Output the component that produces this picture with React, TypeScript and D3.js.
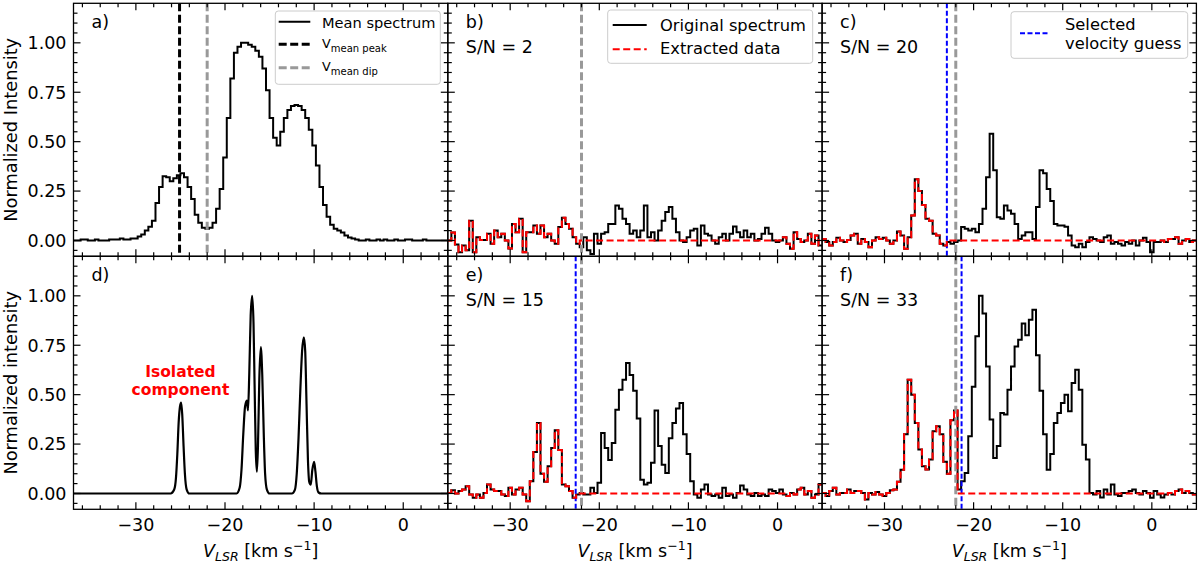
import React, { useEffect, useRef } from 'react';
import * as d3 from 'd3';

// Spectral channel grid (km/s): left edge of the first channel and channel width
const channelStart = -37;
const channelWidth = 0.4;

// a) mean spectrum
const meanSpectrum = [
  0.0, 0.0, 0.005, 0.005, 0.0, 0.0, 0.005, 0.0, 0.0, 0.0,
  0.005, 0.005, 0.005, 0.01, 0.005, 0.005, 0.01, 0.01, 0.02, 0.03,
  0.05, 0.07, 0.1, 0.19, 0.27, 0.325, 0.32, 0.3, 0.315, 0.33,
  0.34, 0.32, 0.27, 0.21, 0.13, 0.09, 0.065, 0.06, 0.065, 0.09,
  0.16, 0.26, 0.42, 0.62, 0.82, 0.95, 0.98, 1.0, 1.0, 0.99,
  0.98, 0.96, 0.93, 0.87, 0.76, 0.62, 0.52, 0.48, 0.55, 0.62,
  0.66, 0.68, 0.685, 0.68, 0.66, 0.62, 0.56, 0.48, 0.38, 0.27,
  0.18, 0.12, 0.08, 0.06, 0.05, 0.04, 0.025, 0.015, 0.01, 0.005,
  0.0, 0.0, 0.005, 0.0, 0.0, 0.005, 0.0, 0.005, 0.0, 0.0,
  0.005, 0.0, 0.0, 0.005, 0.005, 0.0, 0.0, 0.0, 0.005, 0.0,
  0.0, 0.0, 0.0, 0.0, 0.0,
];

// b) S/N = 2
const spectrumSN2 = [
  0.0, 0.04, -0.02, -0.06, -0.025, -0.05, 0.1, -0.06, 0.017, 0.003,
  0.003, 0.034, -0.017, 0.05, 0.017, 0.034, 0.0, -0.04, 0.084, 0.042,
  0.11, -0.06, 0.042, 0.042, 0.076, 0.034, 0.076, 0.017, 0.034, 0.0,
  -0.017, 0.068, 0.115, 0.084, 0.059, 0.017, -0.017, -0.034, 0.017, -0.05,
  -0.068, 0.034, -0.017, 0.034, 0.042, 0.084, 0.084, 0.177, 0.16, 0.11,
  0.084, 0.034, 0.05, 0.017, 0.05, 0.177, 0.017, 0.042, 0.0, 0.05,
  0.1, 0.144, 0.169, 0.11, 0.042, 0.0, -0.008, 0.017, 0.05, 0.059,
  -0.025, 0.076, 0.034, 0.025, 0.0, -0.017, 0.017, 0.034, 0.0, 0.034,
  0.071, 0.042, 0.017, 0.05, 0.017, 0.034, 0.0, 0.008, 0.034, 0.064,
  0.034, 0.0, -0.008, 0.0, 0.017, -0.017, -0.042, 0.042, 0.008, -0.008,
  0.0, 0.034, -0.017, 0.025, -0.025,
];

// c) S/N = 20
const spectrumSN20 = [
  0.008, -0.008, -0.025, -0.008, 0.014, 0.0, -0.008, 0.003, 0.025, 0.034,
  -0.017, 0.008, -0.008, -0.034, 0.0, 0.017, 0.008, 0.014, 0.0, -0.017,
  0.0, 0.046, 0.025, -0.042, 0.017, 0.127, 0.31, 0.25, 0.18, 0.11,
  0.1, 0.034, 0.025, -0.017, -0.025, -0.008, -0.017, -0.008, 0.0, 0.068,
  0.06, 0.05, 0.06, 0.042, 0.084, 0.16, 0.32, 0.54, 0.355, 0.118,
  0.11, 0.177, 0.152, 0.135, 0.084, 0.008, 0.025, 0.042, 0.042, 0.008,
  0.169, 0.355, 0.34, 0.26, 0.2, 0.084, 0.076, 0.076, 0.07, 0.025,
  -0.025, -0.034, -0.017, -0.034, -0.008, 0.017, 0.008, 0.0, -0.008, 0.017,
  0.025, -0.017, -0.008, -0.017, -0.025, -0.008, -0.017, 0.0, -0.025, 0.0,
  0.014, -0.008, -0.06, -0.008, -0.008, 0.0, -0.008, 0.008, 0.008, 0.017,
  -0.017, 0.0, 0.008, -0.008, 0.0,
];

// e) S/N = 15
const spectrumSN15 = [
  0.003, 0.017, 0.0, 0.012, 0.02, 0.037, -0.005, -0.022, -0.005, -0.022,
  0.003, 0.045, 0.02, 0.012, 0.012, -0.005, -0.013, 0.029, -0.005, 0.02,
  0.029, -0.005, -0.039, 0.062, 0.21, 0.357, 0.1, 0.06, 0.138, 0.23,
  0.32, 0.22, 0.045, 0.037, 0.012, -0.022, -0.005, 0.003, -0.005, -0.005,
  0.029, 0.003, 0.054, 0.306, 0.23, 0.17, 0.256, 0.424, 0.525, 0.576,
  0.66, 0.6, 0.52, 0.38, 0.07, 0.045, 0.054, 0.155, 0.42, 0.24,
  0.146, 0.104, 0.28, 0.357, 0.43, 0.458, 0.3, 0.2, 0.062, -0.005,
  -0.022, 0.02, 0.045, -0.005, -0.013, -0.005, -0.022, 0.029, -0.013, -0.005,
  -0.022, 0.003, 0.04, 0.02, -0.005, -0.013, 0.003, -0.013, -0.005, -0.013,
  0.02, 0.012, 0.003, 0.02, -0.005, -0.013, 0.003, -0.005, 0.02, 0.029,
  -0.005, 0.012, -0.022, -0.005, 0.045,
];

// f) S/N = 33
const spectrumSN33 = [
  0.003, -0.013, 0.012, 0.029, -0.005, 0.003, 0.003, 0.02, 0.003, 0.012,
  0.012, 0.003, -0.03, 0.003, -0.005, 0.007, -0.005, -0.013, 0.003, 0.017,
  0.02, 0.06, 0.12, 0.3, 0.576, 0.5, 0.357, 0.222, 0.138, 0.121,
  0.172, 0.315, 0.34, 0.3, 0.16, 0.1, 0.37, 0.42, 0.02, 0.062,
  0.104, 0.29, 0.54, 0.795, 1.0, 0.91, 0.643, 0.374, 0.18, 0.24,
  0.407, 0.4, 0.525, 0.643, 0.744, 0.778, 0.86, 0.8, 0.879, 0.93,
  0.7, 0.52, 0.3, 0.12, 0.2, 0.357, 0.407, 0.458, 0.5, 0.416,
  0.559, 0.626, 0.525, 0.247, 0.172, 0.003, -0.005, 0.012, -0.02, 0.02,
  -0.005, 0.045, -0.005, -0.013, 0.003, 0.003, 0.012, 0.02, 0.003, -0.005,
  0.012, 0.003, -0.022, 0.012, -0.005, -0.02, -0.005, 0.003, -0.005, 0.012,
  0.02, 0.003, 0.012, 0.003, -0.005,
];

// d) model profile (smooth), read at points along the curve
const modelVelocity = [
  -37, -26.1, -25.7, -25.5, -25.35, -25.2, -25.05, -24.92, -24.8, -24.65,
  -24.5, -24.3, -24.0, -18.7, -18.35, -18.15, -17.95, -17.75, -17.55, -17.42,
  -17.28, -17.12, -16.95, -16.8, -16.68, -16.55, -16.42, -16.3, -16.15, -15.98,
  -15.82, -15.65, -15.5, -15.3, -15.0, -12.5, -12.15, -11.95, -11.75, -11.55,
  -11.35, -11.15, -11.0, -10.85, -10.7, -10.55, -10.38, -10.2, -10.0, -9.85,
  -9.7, -9.5, -9.2, 5,
];
const modelIntensity = [
  0, 0, 0.02, 0.08, 0.2, 0.36, 0.44, 0.46, 0.4, 0.24,
  0.1, 0.02, 0, 0, 0.03, 0.12, 0.3, 0.44, 0.47, 0.42,
  0.6, 0.9, 1.0, 0.86, 0.55, 0.22, 0.11, 0.24, 0.58, 0.74,
  0.6, 0.3, 0.1, 0.02, 0, 0, 0.02, 0.1, 0.28, 0.52,
  0.72, 0.79, 0.72, 0.45, 0.18, 0.06, 0.045, 0.12, 0.16, 0.11,
  0.04, 0.005, 0, 0,
];

const panelLetters = ['a)', 'b)', 'c)', 'd)', 'e)', 'f)'];
const snLabels = ['', 'S/N = 2', 'S/N = 20', '', 'S/N = 15', 'S/N = 33'];
const guessVelocities = [null, null, -23.0, null, -22.65, -21.35];
// velocity range blanked out of the extracted data
const extractWindows = [null, [-22.1, 0.5], [-22.5, 1.5], null, [-22.6, 1.0], [-21.7, 1.5]];
const vMeanPeak = -25.1;
const vMeanDip = -22.0;

const xDomain = [-37, 5];
const yDomain = [-0.08, 1.2];
const xTicks = [-30, -20, -10, 0];
const yTicks = [0, 0.25, 0.5, 0.75, 1.0];

const FONT = 'DejaVu Sans, Verdana, sans-serif';
const GRAY = '#999999';

export default function App() {
  const svgRef = useRef<SVGSVGElement>(null);

  useEffect(() => {
    if (!svgRef.current) return;
    const svg = d3.select(svgRef.current);
    svg.selectAll('*').remove();

    const left = 73.5;
    const top = 3.3;
    const pw = 374.3;
    const ph = 253;

    const spectra = [meanSpectrum, spectrumSN2, spectrumSN20, null, spectrumSN15, spectrumSN33];
    const defs = svg.append('defs');

    const xMinor = d3.range(-36, 5, 2).filter(v => v % 10 !== 0);
    const yMinor = d3
      .range(-1, 24)
      .map(i => i * 0.05)
      .filter(v => Math.abs(v / 0.25 - Math.round(v / 0.25)) > 1e-6);

    spectra.forEach((spec, k) => {
      const col = k % 3;
      const row = Math.floor(k / 3);
      const x0 = left + col * pw;
      const y0 = top + row * ph;

      const x = d3.scaleLinear().domain(xDomain).range([x0, x0 + pw]);
      const y = d3.scaleLinear().domain(yDomain).range([y0 + ph, y0]);

      const clipId = `panel-clip-${k}`;
      defs
        .append('clipPath')
        .attr('id', clipId)
        .append('rect')
        .attr('x', x0)
        .attr('y', y0)
        .attr('width', pw)
        .attr('height', ph);

      const g = svg.append('g');
      const plot = g.append('g').attr('clip-path', `url(#${clipId})`);

      const vline = (v: number, color: string, width: number, dash: string) =>
        plot
          .append('line')
          .attr('x1', x(v))
          .attr('x2', x(v))
          .attr('y1', y0)
          .attr('y2', y0 + ph)
          .attr('stroke', color)
          .attr('stroke-width', width)
          .attr('stroke-dasharray', dash);

      if (spec) {
        const pts: [number, number][] = spec.map((v, i) => [channelStart + i * channelWidth, v]);
        pts.push([channelStart + spec.length * channelWidth, spec[spec.length - 1]]);
        const stepLine = d3
          .line<[number, number]>()
          .x(d => x(d[0]))
          .y(d => y(d[1]))
          .curve(d3.curveStepAfter);

        plot
          .append('path')
          .attr('d', stepLine(pts))
          .attr('fill', 'none')
          .attr('stroke', '#000')
          .attr('stroke-width', 2);

        if (k === 0) {
          vline(vMeanPeak, '#000', 3, '8,3.5');
          vline(vMeanDip, GRAY, 3, '8,3.5');
        } else {
          const win = extractWindows[k]!;
          const extracted: [number, number][] = spec.map((v, i) => {
            const c = channelStart + (i + 0.5) * channelWidth;
            return [channelStart + i * channelWidth, c > win[0] && c < win[1] ? 0 : v];
          });
          extracted.push([channelStart + spec.length * channelWidth, extracted[extracted.length - 1][1]]);
          vline(vMeanDip, GRAY, 3, '8,3.5');
          const guess = guessVelocities[k];
          if (guess !== null) vline(guess, '#0000ff', 2, '5,2.5');
          plot
            .append('path')
            .attr('d', stepLine(extracted))
            .attr('fill', 'none')
            .attr('stroke', '#ff0000')
            .attr('stroke-width', 2)
            .attr('stroke-dasharray', '7,3.5');
        }
      } else {
        const model: [number, number][] = modelVelocity.map((v, i) => [v, modelIntensity[i]]);
        const smooth = d3
          .line<[number, number]>()
          .x(d => x(d[0]))
          .y(d => y(d[1]))
          .curve(d3.curveMonotoneX);
        plot
          .append('path')
          .attr('d', smooth(model))
          .attr('fill', 'none')
          .attr('stroke', '#000')
          .attr('stroke-width', 2.2);

        // two separate lines of the red note
        ['Isolated', 'component'].forEach((t, i) => {
          g.append('text')
            .attr('x', x(-25.0))
            .attr('y', y(0.59) + i * 18)
            .attr('text-anchor', 'middle')
            .attr('fill', '#ff0000')
            .attr('font-weight', 'bold')
            .attr('font-size', '15.5px')
            .attr('font-family', FONT)
            .text(t);
        });
      }

      // spine
      g.append('rect')
        .attr('x', x0)
        .attr('y', y0)
        .attr('width', pw)
        .attr('height', ph)
        .attr('fill', 'none')
        .attr('stroke', '#000')
        .attr('stroke-width', 1.3);

      // inward ticks on all four sides
      const ticks = g.append('g').attr('stroke', '#000').attr('stroke-width', 1.2);
      const xt = (vals: number[], len: number) =>
        vals.forEach(v => {
          ticks.append('line').attr('x1', x(v)).attr('x2', x(v)).attr('y1', y0 + ph).attr('y2', y0 + ph - len);
          ticks.append('line').attr('x1', x(v)).attr('x2', x(v)).attr('y1', y0).attr('y2', y0 + len);
        });
      const yt = (vals: number[], len: number) =>
        vals.forEach(v => {
          ticks.append('line').attr('x1', x0).attr('x2', x0 + len).attr('y1', y(v)).attr('y2', y(v));
          ticks.append('line').attr('x1', x0 + pw).attr('x2', x0 + pw - len).attr('y1', y(v)).attr('y2', y(v));
        });
      xt(xTicks, 7);
      xt(xMinor, 4);
      yt(yTicks, 7);
      yt(yMinor, 4);

      if (col === 0) {
        yTicks.forEach(v => {
          g.append('text')
            .attr('x', x0 - 7)
            .attr('y', y(v))
            .attr('dy', '0.36em')
            .attr('text-anchor', 'end')
            .attr('font-size', '17.5px')
            .attr('font-family', FONT)
            .text(d3.format('.2f')(v));
        });
        g.append('text')
          .attr('transform', `translate(16.5, ${y0 + ph / 2}) rotate(-90)`)
          .attr('text-anchor', 'middle')
          .attr('font-size', '17.8px')
          .attr('font-family', FONT)
          .text(row === 0 ? 'Normalized Intensity' : 'Normalized intensity');
      }

      if (row === 1) {
        xTicks.forEach(v => {
          g.append('text')
            .attr('x', x(v))
            .attr('y', y0 + ph + 22)
            .attr('text-anchor', 'middle')
            .attr('font-size', '17.5px')
            .attr('font-family', FONT)
            .text(v < 0 ? `\u2212${-v}` : `${v}`);
        });
        const lab = g
          .append('text')
          .attr('x', x0 + pw / 2)
          .attr('y', 557)
          .attr('text-anchor', 'middle')
          .attr('font-size', '17.5px')
          .attr('font-family', FONT);
        lab.append('tspan').attr('font-style', 'italic').text('V');
        lab.append('tspan').attr('font-style', 'italic').attr('font-size', '12.5px').attr('dy', 4).text('LSR');
        lab.append('tspan').attr('dy', -4).text(' [km s');
        lab.append('tspan').attr('font-size', '12.5px').attr('dy', -7).text('\u22121');
        lab.append('tspan').attr('dy', 7).text(']');
      }

      g.append('text')
        .attr('x', x0 + 18)
        .attr('y', y0 + 25)
        .attr('font-size', '17.5px')
        .attr('font-family', FONT)
        .text(panelLetters[k]);
      if (snLabels[k]) {
        g.append('text')
          .attr('x', x0 + 18)
          .attr('y', y0 + 49.5)
          .attr('font-size', '17.5px')
          .attr('font-family', FONT)
          .text(snLabels[k]);
      }
    });

    // legends
    const legendBox = (bx: number, by: number, bw: number, bh: number) =>
      svg
        .append('rect')
        .attr('x', bx)
        .attr('y', by)
        .attr('width', bw)
        .attr('height', bh)
        .attr('rx', 3)
        .attr('fill', '#ffffff')
        .attr('fill-opacity', 0.8)
        .attr('stroke', '#cccccc')
        .attr('stroke-width', 1);
    const sample = (x1: number, x2: number, yy: number, color: string, w: number, dash: string | null) => {
      const l = svg
        .append('line')
        .attr('x1', x1)
        .attr('x2', x2)
        .attr('y1', yy)
        .attr('y2', yy)
        .attr('stroke', color)
        .attr('stroke-width', w);
      if (dash) l.attr('stroke-dasharray', dash);
    };
    const label = (tx: number, ty: number, size: number, text: string) =>
      svg
        .append('text')
        .attr('x', tx)
        .attr('y', ty)
        .attr('font-size', `${size}px`)
        .attr('font-family', FONT)
        .text(text);

    // a)
    legendBox(275.3, 11, 165, 73.3);
    sample(278.7, 310.3, 21.7, '#000', 2, null);
    label(322, 27.7, 14.6, 'Mean spectrum');
    sample(278.7, 310.3, 44.3, '#000', 3, '8,3.5');
    const vp = label(322, 47.7, 12.8, 'V');
    vp.append('tspan').attr('font-size', '10px').attr('dy', 4.3).text('mean peak');
    sample(278.7, 310.3, 67.7, GRAY, 3, '8,3.5');
    const vd = label(322, 71, 12.8, 'V');
    vd.append('tspan').attr('font-size', '10px').attr('dy', 4.3).text('mean dip');

    // b)
    legendBox(607.7, 10, 205, 53.3);
    sample(612.7, 646.7, 25, '#000', 2, null);
    label(660, 30.7, 16.3, 'Original spectrum');
    sample(612.7, 646.7, 49.3, '#ff0000', 2, '7,3.5');
    label(660, 54, 16.3, 'Extracted data');

    // c)
    legendBox(1011, 11.7, 176.7, 46.6);
    sample(1020, 1050, 33.3, '#0000ff', 2, '5,2.5');
    label(1065, 30, 16.3, 'Selected');
    label(1065, 48.5, 16.3, 'velocity guess');
  }, []);

  return (
    <svg
      ref={svgRef}
      width={1200}
      height={564}
      style={{ position: 'absolute', left: 0, top: 0, background: '#ffffff' }}
    ></svg>
  );
}
